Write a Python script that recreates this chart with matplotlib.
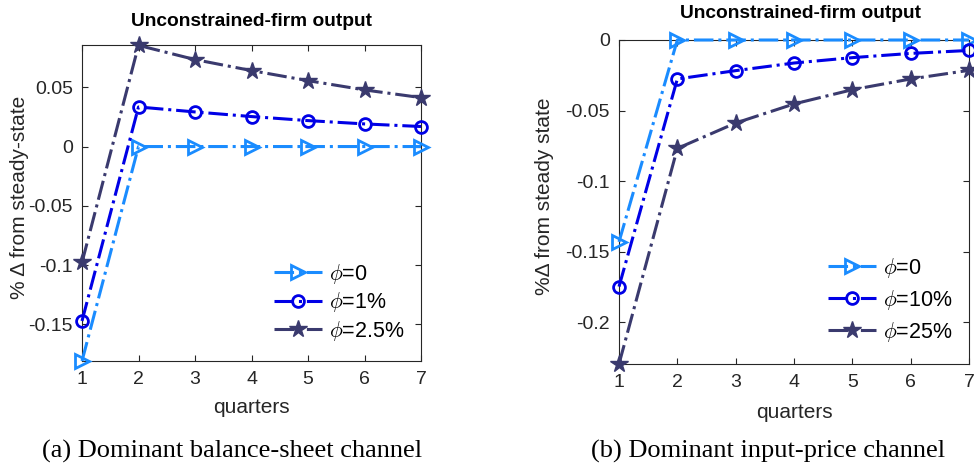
import matplotlib
matplotlib.use("Agg")
import matplotlib.pyplot as plt

quarters = [1, 2, 3, 4, 5, 6, 7]

# Panel (a): dominant balance-sheet channel
a_phi0 = [-0.181, 0, 0, 0, 0, 0, 0]
a_phi1 = [-0.1472, 0.0334, 0.0292, 0.0253, 0.0219, 0.0191, 0.0169]
a_phi25 = [-0.0978, 0.0854, 0.0734, 0.0641, 0.0556, 0.0478, 0.0413]
a_labels = [r"$\phi$=0", r"$\phi$=1%", r"$\phi$=2.5%"]

# Panel (b): dominant input-price channel
b_phi0 = [-0.143, 0, 0, 0, 0, 0, 0]
b_phi10 = [-0.1747, -0.0276, -0.0217, -0.0163, -0.0125, -0.0095, -0.0074]
b_phi25 = [-0.2295, -0.0768, -0.0588, -0.0453, -0.0352, -0.0276, -0.0215]
b_labels = [r"$\phi$=0", r"$\phi$=10%", r"$\phi$=25%"]

colors = ["#1a8cff", "#0000e6", "#3a3a6e"]
markers = [">", "o", "*"]
msizes = [10, 8.5, 13]

plt.rcParams["font.family"] = ["Liberation Sans", "DejaVu Sans"]
plt.rcParams["mathtext.fontset"] = "cm"

fig = plt.figure(figsize=(9.74, 4.67), dpi=100)
W, H = 974, 467
INK = "#262626"


def add_axes_px(x0, y0, x1, y1):
    return fig.add_axes([x0 / W, 1 - y1 / H, (x1 - x0) / W, (y1 - y0) / H])


def draw_panel(ax, series, ylim, yticks, yticklabels):
    handles = []
    for ys, c, m, ms in zip(series, colors, markers, msizes):
        filled = m == "*"
        h, = ax.plot(quarters, ys, color=c, linestyle="-.", linewidth=2.2,
                     marker=m, markersize=ms,
                     markerfacecolor=c if filled else "none",
                     markeredgecolor=c, markeredgewidth=1.0 if filled else 2.0,
                     clip_on=False, zorder=3)
        handles.append(h)
    ax.set_xlim(1, 7)
    ax.set_ylim(*ylim)
    ax.set_xticks(quarters)
    ax.set_yticks(yticks)
    ax.set_yticklabels(yticklabels)
    ax.tick_params(direction="in", top=True, right=True, labelsize=14,
                   colors=INK, length=4, width=0.8)
    ax.tick_params(axis="x", pad=7.5)
    ax.tick_params(axis="y", pad=6.5)
    for s in ax.spines.values():
        s.set_color(INK)
        s.set_linewidth(0.8)
    return handles


# Left panel
ax1 = add_axes_px(82, 45, 421, 361)
h1 = draw_panel(ax1, [a_phi0, a_phi1, a_phi25],
                (-0.181, 0.0857), [-0.15, -0.1, -0.05, 0, 0.05],
                ["-0.15", "-0.1", "-0.05", "0", "0.05"])
ax1.set_xlabel("quarters", fontsize=15, color=INK, va="center")
ax1.xaxis.set_label_coords(0.5, (361 - 408) / 316)
ax1.set_ylabel("% Δ from steady-state", fontsize=15, color=INK, va="center")
ax1.yaxis.set_label_coords((20 - 82) / 339, (361 - 197) / 316)
ax1.legend(h1, a_labels, loc="upper left",
           bbox_to_anchor=((274 - 82) / 339, (361 - 262) / 316),
           frameon=False, fontsize=15.5, handlelength=2.25, handletextpad=0.3,
           labelspacing=0.2, borderpad=0, borderaxespad=0)
fig.text(251.5 / W, 1 - 22 / H, "Unconstrained-firm output",
         ha="center", va="center", fontsize=13.8, fontweight="bold")

# Right panel
ax2 = add_axes_px(619, 40, 969, 364)
h2 = draw_panel(ax2, [b_phi0, b_phi10, b_phi25],
                (-0.2295, 0.0), [-0.2, -0.15, -0.1, -0.05, 0],
                ["-0.2", "-0.15", "-0.1", "-0.05", "0"])
ax2.set_xlabel("quarters", fontsize=15, color=INK, va="center")
ax2.xaxis.set_label_coords(0.5, (364 - 412) / 324)
ax2.set_ylabel("%Δ from steady state", fontsize=15, color=INK, va="center")
ax2.yaxis.set_label_coords((545 - 619) / 350, (364 - 196) / 324)
ax2.legend(h2, b_labels, loc="upper left",
           bbox_to_anchor=((828 - 619) / 350, (364 - 256) / 324),
           frameon=False, fontsize=15.5, handlelength=2.25, handletextpad=0.3,
           labelspacing=0.37, borderpad=0, borderaxespad=0)
fig.text(800 / W, 1 - 13.5 / H, "Unconstrained-firm output",
         ha="center", va="center", fontsize=13.8, fontweight="bold")

# Sub-figure captions
fig.text(232 / W, 1 - 458 / H, "(a) Dominant balance-sheet channel",
         ha="center", va="baseline", fontsize=19, family="Liberation Serif")
fig.text(768 / W, 1 - 458 / H, "(b) Dominant input-price channel",
         ha="center", va="baseline", fontsize=19, family="Liberation Serif")

fig.savefig("out.png", dpi=100)
